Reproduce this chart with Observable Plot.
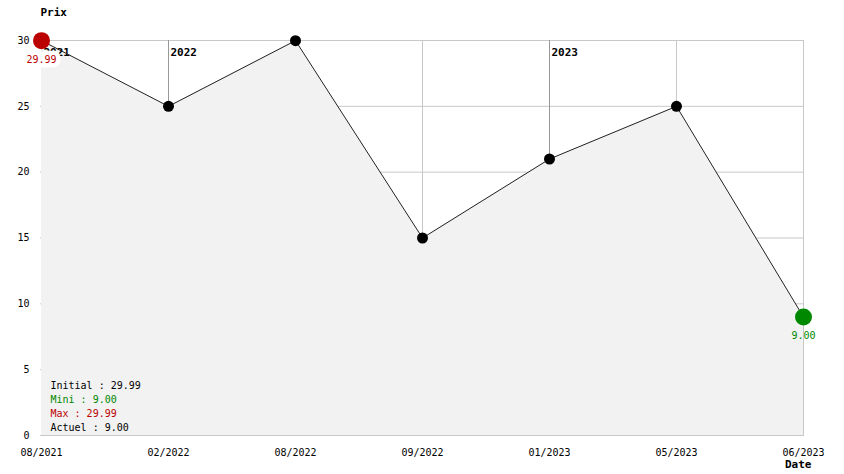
<!DOCTYPE html>
<html>
<head>
<meta charset="utf-8">
<script src="https://cdn.jsdelivr.net/npm/d3@7"></script>
<script src="https://cdn.jsdelivr.net/npm/@observablehq/plot@0.6"></script>
<style>
  html, body { margin: 0; padding: 0; background: #fff; }
</style>
</head>
<body>
<div id="chart"></div>
<script>
const dates = ["08/2021", "02/2022", "08/2022", "09/2022", "01/2023", "05/2023", "06/2023"];
const prices = [29.99, 25, 29.99, 15, 21, 25, 9];
const yTicks = [0, 5, 10, 15, 20, 25, 30];
const yearMarks = [
  {date: "08/2021", year: "2021"},
  {date: "02/2022", year: "2022"},
  {date: "01/2023", year: "2023"}
];
const legendLines = [
  {text: "Initial : 29.99", color: "#000000"},
  {text: "Mini : 9.00", color: "#008800"},
  {text: "Max : 29.99", color: "#bb0000"},
  {text: "Actuel : 9.00", color: "#000000"}
];

const data = dates.map((d, i) => ({date: d, price: prices[i]}));
const maxPt = data.reduce((a, b) => (b.price > a.price ? b : a));
const minPt = data.reduce((a, b) => (b.price < a.price ? b : a));
const yearData = yearMarks.map(m => ({...m, price: data.find(d => d.date === m.date).price}));

const font = "'DejaVu Sans Mono', 'Liberation Mono', monospace";

const chart = Plot.plot({
  width: 844,
  height: 474,
  marginLeft: 40,
  marginRight: 40,
  marginTop: 40,
  marginBottom: 39,
  style: {fontFamily: font, fontSize: "10px", background: "#fff", color: "#000"},
  x: {type: "point", domain: dates, padding: 0, label: null},
  y: {domain: [0, 30], ticks: yTicks, label: null},
  marks: [
    Plot.gridY(yTicks, {stroke: "#c8c8c8", strokeOpacity: 1}),
    Plot.gridX(dates, {stroke: "#c8c8c8", strokeOpacity: 1}),
    Plot.areaY(data, {x: "date", y: "price", fill: "#f2f2f2", curve: "linear"}),
    Plot.ruleX(yearData, {x: "date", y1: 30, y2: "price", stroke: "#999999"}),
    Plot.text(yearData, {x: "date", text: "year", frameAnchor: "top", textAnchor: "start", dx: 2, dy: 8, fontWeight: "bold", fontSize: 11, fill: "#000"}),
    Plot.line(data, {x: "date", y: "price", stroke: "#222", strokeWidth: 1}),
    Plot.dot(data, {x: "date", y: "price", r: 5.5, fill: "#000", stroke: null}),
    Plot.text([maxPt], {x: "date", y: "price", text: d => d.price.toFixed(2), dy: 19, fill: "#bb0000", stroke: "#fff", strokeWidth: 9, strokeLinejoin: "miter"}),
    Plot.text([minPt], {x: "date", y: "price", text: d => d.price.toFixed(2), dy: 19, fill: "#008800"}),
    Plot.dot([maxPt], {x: "date", y: "price", r: 8.5, fill: "#bb0000", stroke: null}),
    Plot.dot([minPt], {x: "date", y: "price", r: 8.5, fill: "#008800", stroke: null}),
    ...legendLines.map((l, i) => Plot.text([l], {
      text: "text", fill: "color", frameAnchor: "bottom-left", textAnchor: "start",
      dx: 10, dy: -5 - (legendLines.length - 1 - i) * 13.7
    })),
    Plot.axisX({tickSize: 0, tickPadding: 13, label: null}),
    Plot.axisY(yTicks, {tickSize: 0, tickPadding: 11, label: null}),
    Plot.text(["Prix"], {frameAnchor: "top-left", textAnchor: "start", dy: -32, fontWeight: "bold", fontSize: 11, fill: "#000"}),
    Plot.text(["Date"], {frameAnchor: "bottom-right", textAnchor: "end", dx: 7, dy: 32, fontWeight: "bold", fontSize: 11, fill: "#000"})
  ]
});
document.getElementById("chart").appendChild(chart);
</script>
</body>
</html>
